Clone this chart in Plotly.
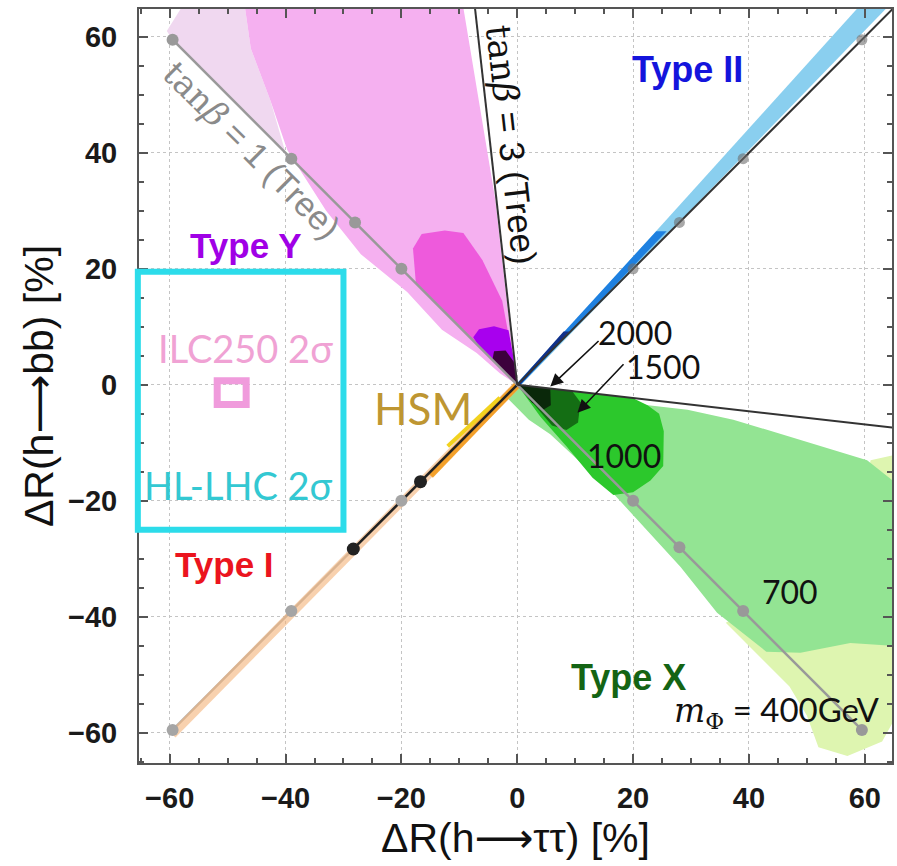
import plotly.graph_objects as go

# ---------------- data ----------------
tick_vals = [-60, -40, -20, 0, 20, 40, 60]

# tan(beta)=1 tree-level line (y = -x) and its marker points
tb1_x = [-59.5, -39, -28, -20, 0, 20, 28, 39, 59.5]
tb1_y = [59.5, 39, 28, 20, 0, -20, -28, -39, -59.5]
tb1_dot_x = [-59.5, -39, -28, -20, 20, 28, 39, 59.5]
tb1_dot_y = [59.5, 39, 28, 20, -20, -28, -39, -59.5]

# tan(beta)=3 tree-level lines
tb3_up_x = [0, -7.3]
tb3_up_y = [0, 65]
tb3_dn_x = [0, 65]
tb3_dn_y = [0, -7.4]

# diagonal (Type I / Type II) line and points
diag_up_x = [0, 65]
diag_up_y = [0, 65]
diag_dn_x = [-59.5, 0]
diag_dn_y = [-59.5, 0]
diag_dot_up_x = [20, 28, 39, 59.5]
diag_dot_up_y = [20, 28, 39, 59.5]
diag_dot_dn_x = [-20, -39, -59.5]
diag_dot_dn_y = [-20, -39, -59.5]
typeI_dot_x = [-28.3, -16.7]
typeI_dot_y = [-28.3, -16.7]
typeI_black_x = [-28.3, 0]
typeI_black_y = [-28.3, 0]

# Type Y regions (pink family)
Y_lav_x = [-59.5, -40, -42.6, -46, -47, -58, -60.5]
Y_lav_y = [59.5, 40, 49, 58, 65, 65, 61]
Y_pink_x = [0, -1.3, -3.8, -6.8, -9.3, -47, -46, -42.6, -39.7, -33, -27, -19, -13, -7, -3, 0]
Y_pink_y = [0, 10, 32, 50, 65, 65, 58, 49, 40.5, 30, 22.5, 16, 9.5, 5.5, 2, 0]
Y_mag_x = [0, -17.5, -18, -16.5, -12.5, -9.3, -6, -2.6, -1]
Y_mag_y = [0, 17.5, 23.5, 26, 26.6, 26.2, 21.5, 14.5, 6]
Y_pur_x = [0, -6.5, -7.6, -6.6, -4, -1.5, -0.7]
Y_pur_y = [0, 6.5, 8.2, 9.6, 10.1, 9.4, 5]
Y_dpur_x = [0, -4.3, -4, -2, -0.6]
Y_dpur_y = [0, 4.3, 5.8, 5.9, 4]

# Type X regions (green family)
X_yg_x = [36, 42, 47, 50, 52, 57, 63, 65.5, 65.5, 61, 58]
X_yg_y = [-41, -47, -52, -57, -62.5, -64, -61.5, -57, -12, -13, -30]
X_lg_x = [0, 10, 20, 29.4, 37.3, 48.9, 60.4, 64.7, 64.7, 57.5, 48.9, 43, 34.5, 28.2, 16, 5.7, 2, -1.5, 0]
X_lg_y = [0, -1.8, -3.2, -4.3, -6, -9.5, -13, -16.4, -45, -44.5, -46.2, -46, -39.3, -31.4, -18.1, -8.5, -6, -2.5, 0]
X_mg_x = [0, 14, 20, 22.5, 24.5, 25.3, 25.2, 23, 20, 16.6, 13, 8.6, 4]
X_mg_y = [0, -1.6, -2.3, -3.5, -5, -8, -14, -16.5, -18.5, -19, -16, -10.7, -5.5]
X_dg_x = [0, 9.5, 10.9, 10.5, 8.5, 6, 3]
X_dg_y = [0, -1.1, -3, -6.5, -7.8, -7, -3.5]
X_dk_x = [0, 5.7, 5.8, 4.5, 2.5]
X_dk_y = [0, -0.6, -3.5, -4.3, -3]

# Type II band (blue family)
II_lb_x = [0, 58.8, 63.8, 0.7]
II_lb_y = [0, 65, 65, 0]
II_b_x = [0, 24, 25.8, 0.6]
II_b_y = [0.3, 26.5, 26.5, 0]
II_nv_x = [0, 8, 9, 0.5]
II_nv_y = [0.2, 9.2, 9.2, 0]

# Type I band (orange family) as strokes
I_light_x = [-59.5, 0]
I_light_y = [-60.3, 0]
I_orange_x = [-15, 0]
I_orange_y = [-15.6, 0]
I_yellow_x = [-12, -3]
I_yellow_y = [-10.6, -2.2]

# experimental boxes [x0, x1, y0, y1]
hllhc_box = [-65.5, -30.0, -25.0, 19.5]
ilc_box = [-51.8, -46.8, -3.4, 0.7]

# arrows: head (x, y), tail (x, y)
arr2000 = [5.7, -0.3, 14.3, 7.8]
arr1500 = [10.4, -4.8, 18.6, 3.8]

x_range = [-65.3, 64.7]
y_range = [-65.2, 64.8]

fig = go.Figure()


def poly(xs, ys, color):
    fig.add_trace(go.Scatter(x=xs, y=ys, fill='toself', fillcolor=color, mode='lines',
                             line=dict(width=0, color=color), hoverinfo='skip'))


def line(xs, ys, color, width):
    fig.add_trace(go.Scatter(x=xs, y=ys, mode='lines', line=dict(color=color, width=width),
                             hoverinfo='skip'))


def dots(xs, ys, color, size):
    fig.add_trace(go.Scatter(x=xs, y=ys, mode='markers', marker=dict(color=color, size=size),
                             hoverinfo='skip'))


# Type Y
poly(Y_lav_x, Y_lav_y, '#F0D8F0')
poly(Y_pink_x, Y_pink_y, '#F5B0F0')
poly(Y_mag_x, Y_mag_y, '#EE5ADC')
poly(Y_pur_x, Y_pur_y, '#A800EE')
poly(Y_dpur_x, Y_dpur_y, '#3C003C')
# Type X
poly(X_yg_x, X_yg_y, '#DEF5B0')
poly(X_lg_x, X_lg_y, '#93E493')
poly(X_mg_x, X_mg_y, '#2CC82C')
poly(X_dg_x, X_dg_y, '#146E14')
poly(X_dk_x, X_dk_y, '#0A280A')
# Type II
poly(II_lb_x, II_lb_y, '#8ACFEF')
poly(II_b_x, II_b_y, '#1E80E0')
poly(II_nv_x, II_nv_y, '#10308A')

# diagonal lower gray line & Type I band
line(diag_dn_x, diag_dn_y, '#b5b5b5', 2.5)
line(I_light_x, I_light_y, 'rgba(244,178,120,0.6)', 8)
line(I_orange_x, I_orange_y, 'rgba(242,154,28,0.9)', 7)
line(I_yellow_x, I_yellow_y, '#F2D21E', 4)
line(typeI_black_x, typeI_black_y, '#222222', 2.5)

# tan beta lines
line(tb1_x, tb1_y, '#999999', 2.5)
dots(tb1_dot_x, tb1_dot_y, '#999999', 12)
line(tb3_up_x, tb3_up_y, '#333333', 2)
line(tb3_dn_x, tb3_dn_y, '#333333', 2)
line(diag_up_x, diag_up_y, '#333333', 2)
dots(diag_dot_up_x, diag_dot_up_y, 'rgba(110,110,110,0.6)', 11)
dots(diag_dot_dn_x, diag_dot_dn_y, '#a5a5a5', 12)
dots(typeI_dot_x, typeI_dot_y, '#222222', 13)


# boxes (paper coordinates computed from data ranges so the cyan frame may overlap the axis)
def px(v):
    return (v - x_range[0]) / (x_range[1] - x_range[0])


def py(v):
    return (v - y_range[0]) / (y_range[1] - y_range[0])


fig.add_shape(type='rect', xref='paper', yref='paper',
              x0=px(hllhc_box[0]), x1=px(hllhc_box[1]), y0=py(hllhc_box[2]), y1=py(hllhc_box[3]),
              line=dict(color='#2CDCEA', width=6))
fig.add_shape(type='rect', xref='x', yref='y',
              x0=ilc_box[0], x1=ilc_box[1], y0=ilc_box[2], y1=ilc_box[3],
              line=dict(color='#F09BDC', width=7))

SANS = 'Liberation Sans, Arial, sans-serif'
LATO = 'Lato, sans-serif'
ARROW = '<span style="font-family:DejaVu Sans">⟶</span>'
SERIF = '<span style="font-family:DejaVu Serif">'


def label(x, y, text, color, size, family=SANS, angle=0, bold=False):
    fig.add_annotation(x=x, y=y, xref='x', yref='y', text=text, showarrow=False,
                       textangle=angle,
                       font=dict(family=family, size=size, color=color,
                                 weight='bold' if bold else 'normal'))


label(29.4, 54.3, 'Type II', '#1414DC', 36, bold=True)
label(-46.8, 24.1, 'Type Y', '#A000E6', 35, bold=True)
label(-50.6, -30.9, 'Type I', '#EB141E', 35, bold=True)
label(19.2, -50.5, 'Type X', '#146414', 36, bold=True)
label(-16.2, -4.0, 'HSM', '#BE9632', 44, family=LATO)
label(-48.2, -17.2, 'HL-LHC 2σ', '#33C8D2', 38, family=LATO)
label(-47.0, 6.4, 'ILC250 2σ', '#F0A2D4', 38, family=LATO)
label(20.4, 9.1, '2000', '#111111', 32, family=LATO)
label(25.2, 3.1, '1500', '#111111', 32, family=LATO)
label(18.5, -12.1, '1000', '#111111', 32, family=LATO)
label(47.1, -35.7, '700', '#111111', 32, family=LATO)
label(44.9, -56.4, SERIF + '<i>m</i><sub>Φ</sub></span> = 400GeV', '#111111', 33, family=LATO)
label(-45.8, 40.5, SERIF + 'tan<i>β</i></span> = 1 (Tree)', '#8a8a8a', 34, angle=45)
label(-1.0, 41.4, SERIF + 'tan<i>β</i></span> = 3 (Tree)', '#111111', 35, angle=83.6)

for a in (arr2000, arr1500):
    fig.add_annotation(x=a[0], y=a[1], ax=a[2], ay=a[3], xref='x', yref='y',
                       axref='x', ayref='y', text='', showarrow=True,
                       arrowhead=2, arrowsize=1.6, arrowwidth=1.6, arrowcolor='#111111')

axis_common = dict(
    tickvals=tick_vals, ticks='inside', ticklen=9, tickwidth=1.5, tickcolor='#555555',
    showline=True, linecolor='#555555', linewidth=2, mirror='ticks',
    showgrid=True, gridcolor='#c4c4c4', griddash='dot', gridwidth=1, zeroline=False,
    minor=dict(dtick=5, ticks='inside', ticklen=5, tickcolor='#555555', showgrid=False),
    tickfont=dict(family=SANS, size=29, color='#1a1a1a', weight='bold'),
    automargin=False,
)

fig.update_xaxes(range=x_range, **axis_common, ticklabelstandoff=8,
                 title=dict(text='ΔR(h' + ARROW + 'ττ) [%]',
                            font=dict(family=SANS, size=41, color='#111111'), standoff=3))
fig.update_yaxes(range=y_range, **axis_common, ticklabelstandoff=14,
                 title=dict(text='ΔR(h' + ARROW + 'bb) [%]',
                            font=dict(family=SANS, size=41, color='#111111'), standoff=2))

fig.update_layout(width=897, height=866, margin=dict(l=139, r=5, t=9, b=103),
                  plot_bgcolor='white', paper_bgcolor='white', showlegend=False)

fig.write_html('out.html', config={'displayModeBar': False},
               post_script="document.body.style.margin='0px';document.body.style.overflow='hidden';")
